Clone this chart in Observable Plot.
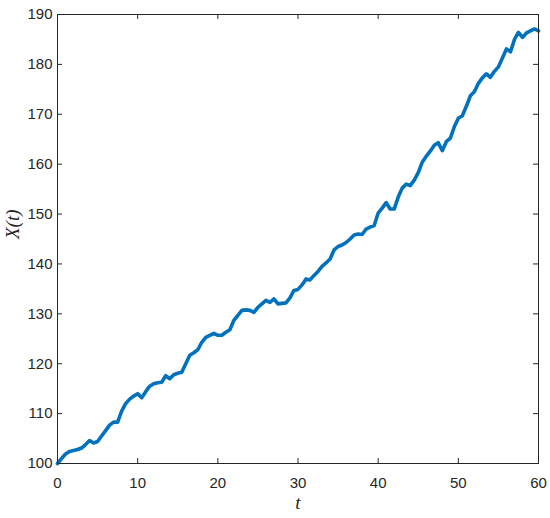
<!DOCTYPE html>
<html>
<head>
<meta charset="utf-8">
<script src="https://cdn.jsdelivr.net/npm/d3@7"></script>
<script src="https://cdn.jsdelivr.net/npm/@observablehq/plot@0.6"></script>
<style>
  html, body { margin: 0; padding: 0; background: #fff; }
</style>
</head>
<body>
<div id="chart"></div>
<script>
const tValues = [
  0, 0.5, 1, 1.5, 2, 2.5, 3, 3.5, 4, 4.5, 5, 5.5, 6, 6.5, 7, 7.5, 8, 8.5, 9, 9.5,
  10, 10.5, 11, 11.5, 12, 12.5, 13, 13.5, 14, 14.5, 15, 15.5, 16, 16.5, 17, 17.5, 18, 18.5, 19, 19.5,
  20, 20.5, 21, 21.5, 22, 22.5, 23, 23.5, 24, 24.5, 25, 25.5, 26, 26.5, 27, 27.5, 28, 28.5, 29, 29.5,
  30, 30.5, 31, 31.5, 32, 32.5, 33, 33.5, 34, 34.5, 35, 35.5, 36, 36.5, 37, 37.5, 38, 38.5, 39, 39.5,
  40, 40.5, 41, 41.5, 42, 42.5, 43, 43.5, 44, 44.5, 45, 45.5, 46, 46.5, 47, 47.5, 48, 48.5, 49, 49.5,
  50, 50.5, 51, 51.5, 52, 52.5, 53, 53.5, 54, 54.5, 55, 55.5, 56, 56.5, 57, 57.5, 58, 58.5, 59, 59.5, 60
];
const xValues = [
  100.0, 101.0, 101.9, 102.4, 102.6, 102.8, 103.1, 103.8, 104.6, 104.1,
  104.4, 105.5, 106.6, 107.7, 108.3, 108.3, 110.5, 112.0, 112.9, 113.5,
  114.0, 113.2, 114.4, 115.5, 116.0, 116.2, 116.3, 117.6, 117.0, 117.8,
  118.1, 118.3, 120.0, 121.7, 122.2, 122.8, 124.3, 125.3, 125.7, 126.1,
  125.7, 125.7, 126.3, 126.8, 128.7, 129.7, 130.7, 130.8, 130.7, 130.3,
  131.3, 132.0, 132.7, 132.3, 133.0, 132.0, 132.1, 132.2, 133.2, 134.7,
  134.9, 135.8, 137.0, 136.8, 137.7, 138.5, 139.5, 140.2, 141.0, 142.8,
  143.5, 143.8, 144.3, 145.0, 145.8, 146.0, 145.9, 147.0, 147.4, 147.7,
  150.2, 151.2, 152.3, 151.0, 151.0, 153.4, 155.2, 156.0, 155.7, 156.8,
  158.3, 160.4, 161.6, 162.6, 163.8, 164.3, 162.7, 164.5, 165.2, 167.5,
  169.2, 169.7, 171.6, 173.7, 174.5, 176.2, 177.3, 178.1, 177.4, 178.6,
  179.5, 181.3, 183.1, 182.5, 185.0, 186.4, 185.4, 186.3, 186.7, 187.1, 186.7
];
const xTicks = [0, 10, 20, 30, 40, 50, 60];
const yTicks = [100, 110, 120, 130, 140, 150, 160, 170, 180, 190];
const xLabel = "t";
const yLabel = "X(t)";

const data = tValues.map((t, i) => ({t, x: xValues[i]}));

const W = 550, H = 518;
const mL = 57, mR = 12, mT = 14, mB = 55;
const pw = W - mL - mR, ph = H - mT - mB;
const tick = 5;
const ink = "#262626";

const chart = Plot.plot({
  width: W,
  height: H,
  marginLeft: mL,
  marginRight: mR,
  marginTop: mT,
  marginBottom: mB,
  style: {fontFamily: "'Liberation Sans', Arial, sans-serif", fontSize: "15px", color: ink, background: "#fff"},
  x: {domain: [0, 60], ticks: xTicks},
  y: {domain: [100, 190], ticks: yTicks},
  marks: [
    Plot.line(data, {x: "t", y: "x", stroke: "#0072BD", strokeWidth: 3.6, strokeLinejoin: "round", strokeLinecap: "round"}),
    Plot.frame({stroke: ink, strokeWidth: 1}),
    Plot.tickX(xTicks, {x: d => d, stroke: ink, insetTop: ph - tick}),
    Plot.tickX(xTicks, {x: d => d, stroke: ink, insetBottom: ph - tick}),
    Plot.tickY(yTicks, {y: d => d, stroke: ink, insetRight: pw - tick}),
    Plot.tickY(yTicks, {y: d => d, stroke: ink, insetLeft: pw - tick}),
    Plot.axisX(xTicks, {tickSize: 0, tickPadding: 14, label: null, fontSize: 15, fill: ink}),
    Plot.axisY(yTicks, {tickSize: 0, tickPadding: 5, label: null, fontSize: 15, fill: ink}),
    Plot.text([xLabel], {frameAnchor: "bottom", dy: 45, text: d => d, fontFamily: "'Liberation Serif', 'DejaVu Serif', serif", fontStyle: "italic", fontSize: 19, fill: ink}),
    Plot.text([yLabel], {frameAnchor: "left", dx: -45, rotate: -90, text: d => d, fontFamily: "'Liberation Serif', 'DejaVu Serif', serif", fontStyle: "italic", fontSize: 19, fill: ink})
  ]
});
document.getElementById("chart").appendChild(chart);
</script>
</body>
</html>
